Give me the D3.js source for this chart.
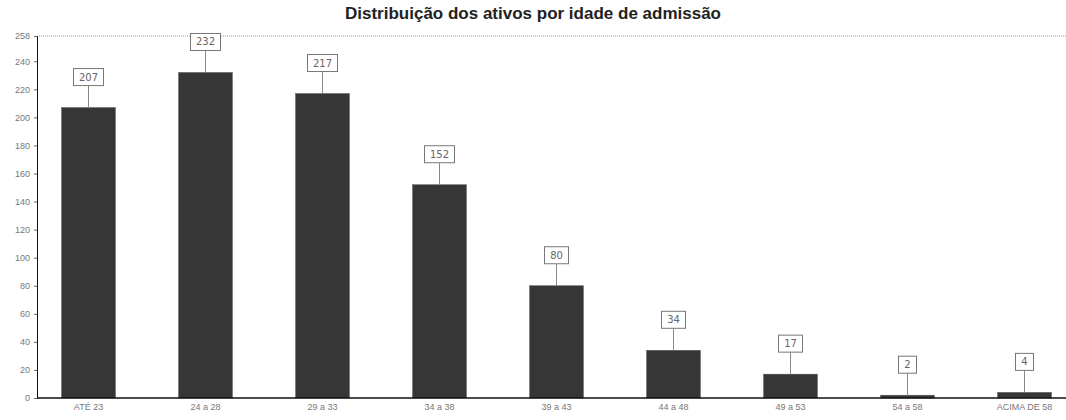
<!DOCTYPE html>
<html>
<head>
<meta charset="utf-8">
<script src="https://cdn.jsdelivr.net/npm/d3@7"></script>
<style>
  body { margin: 0; background: #fff; }
  svg { display: block; font-family: "DejaVu Sans", Arial, sans-serif; }
  .tick text { fill: #777; font-size: 9px; }
  .title { font-family: "Liberation Sans", Arial, sans-serif; font-size: 17px; font-weight: bold; fill: #222; }
</style>
</head>
<body>
<svg id="chart" width="1066" height="420"></svg>
<script>
// data
const categories = ['ATÉ 23', '24 a 28', '29 a 33', '34 a 38', '39 a 43', '44 a 48', '49 a 53', '54 a 58', 'ACIMA DE 58'];
const counts = [207, 232, 217, 152, 80, 34, 17, 2, 4];
const yTicks = [0, 20, 40, 60, 80, 100, 120, 140, 160, 180, 200, 220, 240, 258];

const width = 1066, height = 420;
const margin = { top: 36, right: 0, bottom: 22, left: 37 };
const baseY = height - margin.bottom;

const svg = d3.select('#chart');

svg.append('text')
  .attr('class', 'title')
  .attr('x', 533)
  .attr('y', 19)
  .attr('text-anchor', 'middle')
  .text('Distribuição dos ativos por idade de admissão');

const x = d3.scaleBand()
  .domain(categories)
  .range([30, 1083])
  .paddingInner(0.54)
  .paddingOuter(0.27);

const y = d3.scaleLinear()
  .domain([0, 258])
  .range([baseY, margin.top]);

// dotted frame on top
svg.append('line')
  .attr('x1', margin.left).attr('x2', width)
  .attr('y1', y(258)).attr('y2', y(258))
  .attr('stroke', '#999')
  .attr('stroke-dasharray', '1,1');

// y axis
const yAxis = svg.append('g')
  .attr('transform', `translate(${margin.left},0)`)
  .call(d3.axisLeft(y).tickValues(yTicks).tickSize(3).tickPadding(4));
yAxis.select('.domain').attr('stroke', '#111');
yAxis.selectAll('.tick line').attr('stroke', '#666');

// bars
svg.selectAll('.bar')
  .data(counts)
  .enter()
  .append('rect')
  .attr('class', 'bar')
  .attr('x', (d, i) => x(categories[i]))
  .attr('y', d => y(d))
  .attr('width', x.bandwidth())
  .attr('height', d => baseY - y(d))
  .attr('fill', '#363636')
  .attr('stroke', '#555')
  .attr('stroke-width', 0.5);

// x axis
const xAxis = svg.append('g')
  .attr('transform', `translate(0,${baseY})`)
  .call(d3.axisBottom(x).tickSize(0).tickPadding(6));
xAxis.select('.domain').attr('stroke', '#111').attr('stroke-width', 1.5)
  .attr('d', `M${margin.left},0H${width}`);

// value labels with leader lines
const labels = svg.selectAll('.lbl')
  .data(counts)
  .enter()
  .append('g')
  .attr('class', 'lbl')
  .attr('transform', (d, i) => `translate(${x(categories[i]) + x.bandwidth() / 2},${y(d)})`);

labels.append('line')
  .attr('x1', 0).attr('x2', 0)
  .attr('y1', 0).attr('y2', -22)
  .attr('stroke', '#888');

labels.append('rect')
  .attr('x', d => -(String(d).length * 6 + 12) / 2)
  .attr('y', -39)
  .attr('width', d => String(d).length * 6 + 12)
  .attr('height', 17)
  .attr('fill', '#fff')
  .attr('stroke', '#777');

labels.append('text')
  .attr('y', -27)
  .attr('text-anchor', 'middle')
  .attr('font-size', 10)
  .attr('fill', '#666')
  .text(d => d);
</script>
</body>
</html>
